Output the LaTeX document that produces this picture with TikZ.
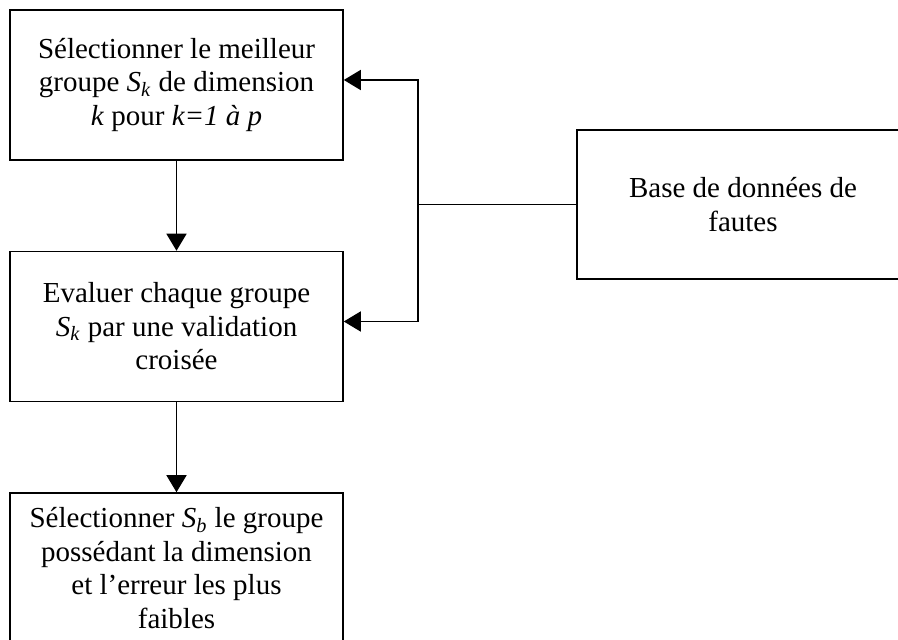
\documentclass[tikz,border=0pt]{standalone}
\usepackage{fontspec}
\setmainfont{Liberation Serif}
\usepackage{tikz}
\usetikzlibrary{arrows.meta,positioning,calc}
\newcommand{\grpS}[1]{\textit{S}\textsubscript{\textit{#1}}}

\begin{document}
\begin{tikzpicture}[
    x=0.5pt, y=-0.5pt,
    >={Triangle[length=8.5pt,width=10pt]},
    stage/.style={draw, line width=0.8pt, minimum width=166.5pt, minimum height=75pt, inner sep=0pt, align=center, font=\fontsize{14.5}{16.75}\selectfont},
    dbbox/.style={draw, line width=0.8pt, minimum width=166pt, minimum height=74.5pt, inner sep=0pt, align=center, font=\fontsize{14.5}{16.75}\selectfont},
    link/.style={line width=0.8pt}
]
\useasboundingbox (0,0) rectangle (898,640);
\clip (0,0) rectangle (898,640);

\node[stage] (sel) at (176.5,85) {Sélectionner le meilleur\\groupe \grpS{k} de dimension\\\textit{k} pour \textit{k=1 à p}};
\node[stage] (eval) at (176.5,326.5) {Evaluer chaque groupe\\\grpS{k} par une validation\\croisée};
\node[stage] (best) at (176.5,568) {Sélectionner \grpS{b} le groupe\\possédant la dimension\\et l’erreur les plus\\faibles};

\node[dbbox] (db) at (743,204.5) {Base de données de\\fautes};

\draw[->, link] (sel) -- (eval);
\draw[->, link] (eval) -- (best);

% feed from the fault base
\draw[link] (db.west) -- ++(-158,0) coordinate (jn);
\draw[->, link] (jn) |- ([yshift=2.5pt]sel.east);
\draw[->, link] (jn) |- ([yshift=2.5pt]eval.east);
\end{tikzpicture}
\end{document}
